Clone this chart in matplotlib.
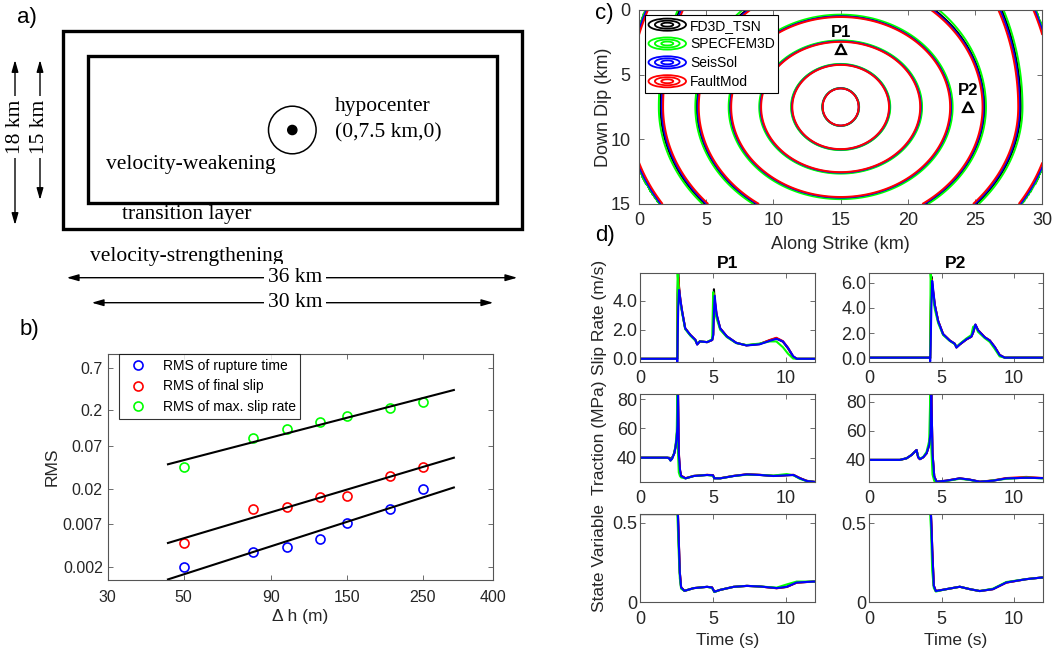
import numpy as np
import matplotlib
matplotlib.use("Agg")
import matplotlib.pyplot as plt
from matplotlib.lines import Line2D
from matplotlib.patches import Ellipse, Rectangle, Circle
from matplotlib.legend_handler import HandlerBase
from matplotlib.ticker import NullLocator

plt.rcParams["font.family"] = ["Liberation Sans", "DejaVu Sans"]

FIG_W, FIG_H = 1059, 657
AX_GRAY = "#262626"

CODES = ["FD3D_TSN", "SPECFEM3D", "SeisSol", "FaultMod"]
CODE_COLORS = {"FD3D_TSN": "#000000", "SPECFEM3D": "#00ff00",
               "SeisSol": "#0000ff", "FaultMod": "#ff0000"}

# ---- b) RMS vs grid size ----
dh = [50, 80, 100, 125, 150, 200, 250]
rms_rupture_time = [0.002, 0.0031, 0.0036, 0.0045, 0.0073, 0.011, 0.020]
rms_final_slip = [0.0040, 0.011, 0.0118, 0.0155, 0.0163, 0.029, 0.038]
rms_max_slip_rate = [0.038, 0.088, 0.114, 0.143, 0.169, 0.212, 0.253]
fit_range = [45, 308]
dh_ticks = [30, 50, 90, 150, 250, 400]
rms_ticks = [0.002, 0.007, 0.02, 0.07, 0.2, 0.7]

# ---- c) rupture front contours (radii of each 1 s front, km) ----
hypocenter = (15.0, 7.5)
front_times = [1, 2, 3, 4, 5, 6, 7]
strike_radius = [1.35, 3.65, 6.0, 8.25, 10.7, 13.4, 16.0]
updip_radius = [1.45, 3.3, 5.1, 7.05, 9.9, 16.8, 18.0]
downdip_radius = [1.45, 3.3, 5.1, 7.05, 9.3, 11.4, 14.0]
code_time_scale = {"FD3D_TSN": 1.0, "SPECFEM3D": 0.992,
                   "SeisSol": 1.006, "FaultMod": 1.012}
stations = {"P1": (15.0, 3.0), "P2": (24.5, 7.5)}

# ---- d) station time series ----
t_p1_sr = [0.0, 2.54, 2.56, 2.58, 2.62, 2.68, 2.78, 2.9, 3.1, 3.45, 3.8, 3.92, 4.1, 4.6, 4.95, 5.02,
           5.07, 5.12, 5.25, 5.5, 5.95, 6.6, 7.3, 8.2, 8.9, 9.35, 9.8, 10.15, 10.5, 10.75, 12.0]
sr_p1 = {
    "FD3D_TSN": [0.0, 0.0, 0.0, 4.5, 5.9, 4.9, 3.9, 3.2, 2.1, 1.65, 1.3, 1.0, 1.2, 1.15, 1.3, 1.7,
                 4.8, 4.0, 3.0, 2.1, 1.55, 1.1, 0.93, 1.02, 1.28, 1.42, 1.18, 0.72, 0.15, 0.0, 0.0],
    "SPECFEM3D": [0.0, 0.0, 0.0, 6.0, 5.3, 4.5, 3.8, 3.1, 2.05, 1.6, 1.25, 1.05, 1.2, 1.15, 1.35, 4.6,
                  3.6, 3.3, 2.8, 2.0, 1.5, 1.08, 0.95, 1.05, 1.2, 1.2, 0.8, 0.35, 0.02, 0.0, 0.0],
    "SeisSol": [0.0, 0.0, -0.2, 1.5, 3.5, 4.75, 4.0, 3.2, 2.1, 1.65, 1.3, 0.98, 1.2, 1.15, 1.3, 1.6,
                3.2, 4.35, 3.1, 2.1, 1.55, 1.1, 0.92, 1.0, 1.24, 1.38, 1.2, 0.75, 0.18, 0.0, 0.0],
    "FaultMod": [0.0, 0.0, 0.0, 3.5, 5.6, 4.9, 4.0, 3.2, 2.1, 1.65, 1.3, 1.0, 1.2, 1.15, 1.3, 1.65,
                 4.5, 4.1, 3.05, 2.1, 1.55, 1.1, 0.93, 1.02, 1.3, 1.45, 1.22, 0.76, 0.17, 0.0, 0.0],
}

t_p2_sr = [0.0, 4.2, 4.22, 4.25, 4.3, 4.36, 4.45, 4.54, 4.77, 5.11, 5.57, 5.92, 6.03, 6.26, 6.72,
           7.06, 7.18, 7.34, 7.52, 7.98, 8.33, 8.67, 9.01, 9.36, 12.0]
sr_p2 = {
    "FD3D_TSN": [0.05, 0.05, 0.0, 3.0, 6.5, 5.8, 5.0, 4.2, 2.95, 1.92, 1.41, 1.15, 0.87, 1.1, 1.5,
                 1.72, 2.05, 2.65, 2.23, 1.67, 1.41, 0.9, 0.26, 0.05, 0.05],
    "SPECFEM3D": [0.05, 0.05, 0.0, 6.75, 6.0, 5.4, 4.6, 3.9, 2.8, 1.85, 1.38, 1.12, 0.9, 1.15, 1.58,
                  1.85, 2.5, 2.6, 2.1, 1.6, 1.3, 0.75, 0.15, 0.05, 0.05],
    "SeisSol": [0.05, 0.05, -0.25, 1.0, 4.0, 6.15, 5.2, 4.23, 2.95, 1.92, 1.41, 1.15, 0.85, 1.1, 1.51,
                1.72, 2.05, 2.69, 2.23, 1.67, 1.41, 0.9, 0.26, 0.05, 0.05],
    "FaultMod": [0.05, 0.05, 0.0, 2.5, 6.3, 5.9, 5.1, 4.23, 2.97, 1.93, 1.42, 1.15, 0.86, 1.1, 1.5,
                 1.72, 2.05, 2.67, 2.24, 1.68, 1.42, 0.9, 0.27, 0.05, 0.05],
}

t_p1_tr = [0.0, 1.87, 2.0, 2.09, 2.2, 2.35, 2.44, 2.52, 2.57, 2.6, 2.66, 2.74, 2.82, 3.12, 3.69,
           4.6, 5.0, 5.1, 5.5, 6.42, 7.33, 8.24, 9.15, 10.06, 10.52, 10.97, 11.43, 12.0]
tr_p1 = {
    "FD3D_TSN": [40.0, 40.0, 40.0, 39.2, 40.0, 43.0, 47.5, 54.0, 63.0, 90.0, 42.0, 31.0, 27.5, 25.9,
                 27.5, 28.2, 28.0, 26.0, 25.9, 27.5, 28.6, 28.2, 27.5, 28.0, 28.2, 26.0, 24.2, 23.4],
    "SPECFEM3D": [40.0, 40.0, 39.5, 38.0, 39.3, 43.5, 48.5, 58.0, 90.0, 45.0, 30.0, 27.5, 26.5, 25.9,
                  27.5, 28.2, 27.6, 25.9, 25.9, 27.5, 28.4, 28.2, 27.8, 28.8, 28.0, 25.5, 24.0, 23.4],
    "SeisSol": [40.0, 40.0, 39.5, 38.0, 39.3, 43.0, 47.5, 54.0, 62.0, 88.0, 43.0, 32.0, 27.5, 25.9,
                27.5, 28.2, 28.0, 25.9, 25.9, 27.5, 28.6, 28.2, 27.5, 28.0, 28.2, 25.9, 24.1, 23.4],
    "FaultMod": [40.0, 40.0, 39.6, 38.2, 39.4, 43.0, 47.5, 54.0, 62.0, 88.0, 44.0, 32.0, 27.8, 26.0,
                 27.6, 28.3, 28.1, 26.0, 26.0, 27.6, 28.7, 28.3, 27.6, 28.1, 28.3, 26.0, 24.2, 23.5],
}

t_p2_tr = [0.0, 2.13, 2.59, 2.94, 3.17, 3.28, 3.39, 3.51, 3.74, 3.97, 4.15, 4.24, 4.29, 4.38, 4.5,
           4.66, 5.34, 6.26, 6.95, 7.64, 8.55, 9.47, 10.85, 11.88, 12.0]
tr_p2 = {
    "FD3D_TSN": [40.0, 40.0, 41.1, 43.4, 45.7, 46.8, 41.8, 40.5, 41.8, 44.5, 50.2, 58.2, 90.0, 44.5,
                 28.6, 25.0, 25.7, 27.3, 26.4, 25.0, 25.7, 27.3, 27.7, 27.5, 27.5],
    "SPECFEM3D": [40.0, 40.0, 41.1, 43.4, 45.7, 46.5, 42.5, 40.8, 42.0, 45.5, 53.0, 90.0, 50.0, 30.0,
                  25.5, 24.8, 25.5, 27.0, 26.2, 24.8, 25.9, 27.0, 27.9, 27.3, 27.3],
    "SeisSol": [40.0, 40.0, 41.1, 43.4, 45.7, 46.8, 41.8, 40.5, 41.8, 44.5, 50.2, 58.2, 90.0, 44.5,
                28.6, 25.0, 25.7, 27.3, 26.4, 25.0, 25.7, 27.3, 27.7, 27.5, 27.5],
    "FaultMod": [40.0, 40.0, 41.1, 43.4, 45.7, 46.8, 41.8, 40.5, 41.8, 44.5, 50.2, 58.2, 90.0, 44.5,
                 28.6, 25.0, 25.7, 27.3, 26.4, 25.0, 25.9, 27.5, 28.3, 27.6, 27.6],
}

t_p1_sv = [0.0, 2.56, 2.6, 2.66, 2.73, 2.82, 3.05, 3.69, 4.6, 4.94, 5.1, 5.5, 6.42, 7.33, 8.24,
           9.37, 10.06, 10.74, 11.88, 12.0]
sv_p1 = {
    "FD3D_TSN": [0.554, 0.554, 0.554, 0.38, 0.186, 0.093, 0.072, 0.089, 0.097, 0.093, 0.066, 0.078,
                 0.097, 0.103, 0.099, 0.089, 0.097, 0.124, 0.13, 0.13],
    "SPECFEM3D": [0.554, 0.554, 0.46, 0.3, 0.15, 0.085, 0.072, 0.089, 0.097, 0.09, 0.064, 0.078,
                  0.097, 0.103, 0.099, 0.092, 0.112, 0.13, 0.13, 0.13],
    "SeisSol": [0.554, 0.554, 0.554, 0.38, 0.186, 0.093, 0.072, 0.089, 0.097, 0.093, 0.066, 0.078,
                0.097, 0.103, 0.099, 0.089, 0.097, 0.124, 0.13, 0.13],
    "FaultMod": [0.554, 0.554, 0.554, 0.39, 0.19, 0.094, 0.072, 0.089, 0.097, 0.093, 0.066, 0.078,
                 0.097, 0.103, 0.099, 0.088, 0.096, 0.123, 0.13, 0.13],
}

t_p2_sv = [0.0, 4.22, 4.27, 4.32, 4.36, 4.47, 4.61, 5.34, 6.26, 6.95, 7.64, 8.55, 9.47, 10.85,
           11.88, 12.0]
sv_p2 = {
    "FD3D_TSN": [0.558, 0.558, 0.558, 0.45, 0.333, 0.104, 0.071, 0.083, 0.098, 0.083, 0.071, 0.083,
                 0.125, 0.146, 0.156, 0.156],
    "SPECFEM3D": [0.558, 0.558, 0.47, 0.33, 0.2, 0.09, 0.068, 0.083, 0.098, 0.083, 0.071, 0.086,
                  0.128, 0.146, 0.156, 0.156],
    "SeisSol": [0.558, 0.558, 0.558, 0.45, 0.333, 0.104, 0.071, 0.083, 0.098, 0.083, 0.071, 0.083,
                0.125, 0.146, 0.156, 0.156],
    "FaultMod": [0.558, 0.558, 0.558, 0.46, 0.34, 0.105, 0.071, 0.083, 0.098, 0.083, 0.071, 0.083,
                 0.124, 0.146, 0.156, 0.156],
}


def px_axes(fig, left, top, right, bottom):
    return fig.add_axes([left / FIG_W, 1 - bottom / FIG_H,
                         (right - left) / FIG_W, (bottom - top) / FIG_H])


def style_axes(ax, labelsize):
    for sp in ax.spines.values():
        sp.set_color("#555555")
        sp.set_linewidth(0.8)
    ax.tick_params(direction="in", top=True, right=True, length=3.5, width=0.6,
                   color="#555555", labelcolor=AX_GRAY, labelsize=labelsize)


class HandlerRings(HandlerBase):
    def create_artists(self, legend, orig_handle, xdescent, ydescent, width, height,
                       fontsize, trans):
        cx = width / 2 - xdescent
        cy = height / 2 - ydescent
        arts = []
        for f in (1.0, 0.66, 0.32):
            arts.append(Ellipse((cx, cy), width * f, height * 1.25 * f, fill=False,
                                edgecolor=orig_handle.get_color(), lw=1.3, transform=trans))
        return arts


def plot_schematic(fig):
    ax = fig.add_axes([0, 0, 1, 1], zorder=-1)
    ax.set_xlim(0, FIG_W)
    ax.set_ylim(FIG_H, 0)
    ax.axis("off")
    serif = dict(family=["Liberation Serif", "DejaVu Serif"], fontsize=15.5)

    ax.add_patch(Rectangle((63.3, 31), 458.4, 198, fill=False, lw=2.4, ec="k"))
    ax.add_patch(Rectangle((87.7, 56), 409.6, 147.3, fill=False, lw=2.4, ec="k"))
    ax.add_patch(Circle((292.3, 130), 23.8, fill=False, lw=1.1, ec="k"))
    ax.add_patch(Circle((292.3, 130), 4.6, color="k"))

    ax.text(335, 107, "hypocenter", ha="left", va="center", **serif)
    ax.text(335, 133, "(0,7.5 km,0)", ha="left", va="center", **serif)
    ax.text(106, 165, "velocity-weakening", ha="left", va="center", **serif)
    ax.text(121.7, 214, "transition layer", ha="left", va="center", **serif)
    ax.text(90, 256, "velocity-strengthening", ha="left", va="center", **serif)

    arrow = dict(arrowstyle="<|-|>,head_length=0.7,head_width=0.2", color="k", lw=1.0,
                 shrinkA=0, shrinkB=0, mutation_scale=10)
    box = dict(facecolor="white", edgecolor="none", pad=3)
    for (x1, x2, y, label) in [(66.7, 517.3, 277.7, "36 km"), (91.7, 493.3, 302.7, "30 km")]:
        ax.annotate("", xy=(x2, y), xytext=(x1, y), arrowprops=arrow)
        ax.text(295, y, label, ha="center", va="center", bbox=box, **serif)
    for (x, y1, y2, label) in [(15, 60, 225, "18 km"), (40, 60, 200, "15 km")]:
        ax.annotate("", xy=(x, y1), xytext=(x, y2), arrowprops=arrow)
        ax.text(x, 127, label, ha="center", va="center", rotation=90, bbox=box, **serif)

    for (x, y, s) in [(27, 17, "a)"), (29, 330, "b)"), (604, 13, "c)"), (605, 235, "d)")]:
        ax.text(x, y, s, ha="center", va="center", fontsize=16)


def plot_rms(fig):
    ax = px_axes(fig, 107.7, 354.3, 492.7, 580)
    series = [(rms_rupture_time, "#0000ff", "RMS of rupture time"),
              (rms_final_slip, "#ff0000", "RMS of final slip"),
              (rms_max_slip_rate, "#00ff00", "RMS of max. slip rate")]
    for vals, color, label in series:
        ax.plot(dh, vals, "o", mfc="none", mec=color, ms=6.5, mew=1.2, label=label)
    for vals, color, label in series:
        coef = np.polyfit(np.log10(dh), np.log10(vals), 1)
        xs = np.array(fit_range, dtype=float)
        ax.plot(xs, 10 ** np.polyval(coef, np.log10(xs)), color="k", lw=1.5)
    ax.set_xscale("log")
    ax.set_yscale("log")
    ax.set_xlim(30, 400)
    ax.set_ylim(0.00136, 1.04)
    ax.set_xticks(dh_ticks)
    ax.set_xticklabels([str(v) for v in dh_ticks])
    ax.set_yticks(rms_ticks)
    ax.set_yticklabels([str(v) for v in rms_ticks])
    ax.xaxis.set_minor_locator(NullLocator())
    ax.yaxis.set_minor_locator(NullLocator())
    style_axes(ax, 11.5)
    ax.tick_params(axis="x", pad=7)
    ax.set_ylabel("RMS", fontsize=12.5, color=AX_GRAY)
    ax.set_xlabel("\u0394 h (m)", fontsize=12.5, color=AX_GRAY)
    ax.yaxis.set_label_coords(-0.125, 0.5)
    ax.xaxis.set_label_coords(0.5, -0.13)
    leg = ax.legend(loc="upper left", bbox_to_anchor=(0.029, 1.0), borderaxespad=0,
                    fontsize=10, frameon=True, fancybox=False, numpoints=1,
                    handlelength=2.0, handletextpad=0.8, labelspacing=0.45, borderpad=0.35)
    leg.get_frame().set_edgecolor("k")
    leg.get_frame().set_linewidth(0.8)


def rupture_time(x, z):
    dx = x - hypocenter[0]
    dz = z - hypocenter[1]
    tt = np.concatenate([[0.0], front_times])
    a0 = np.concatenate([[0.0], strike_radius])
    bu = np.concatenate([[0.0], updip_radius])
    bd = np.concatenate([[0.0], downdip_radius])
    lo = np.zeros_like(dx)
    hi = np.full_like(dx, tt[-1] + 1.0)
    for _ in range(40):
        mid = 0.5 * (lo + hi)
        a = np.interp(mid, tt, a0)
        b = np.where(dz < 0, np.interp(mid, tt, bu), np.interp(mid, tt, bd))
        inside = (dx / a) ** 2 + (dz / b) ** 2 <= 1.0
        hi = np.where(inside, mid, hi)
        lo = np.where(inside, lo, mid)
    return hi


def plot_rupture_fronts(fig):
    ax = px_axes(fig, 639, 10, 1042.3, 204)
    xs = np.linspace(0, 30, 361)
    zs = np.linspace(0, 15, 181)
    X, Z = np.meshgrid(xs, zs)
    T = rupture_time(X, Z)
    for code in ["FD3D_TSN", "SPECFEM3D", "SeisSol", "FaultMod"]:
        ax.contour(X, Z, T * code_time_scale[code], levels=front_times,
                   colors=[CODE_COLORS[code]], linewidths=1.4, linestyles="solid")
    for name, (sx, sz) in stations.items():
        ax.plot(sx, sz, "^", mfc="none", mec="k", ms=7, mew=1.6)
        ax.text(sx, sz - 0.7, name, ha="center", va="bottom", fontsize=12, fontweight="bold")
    ax.set_xlim(0, 30)
    ax.set_ylim(15, 0)
    ax.set_xticks([0, 5, 10, 15, 20, 25, 30])
    ax.set_yticks([0, 5, 10, 15])
    style_axes(ax, 13)
    ax.tick_params(axis="x", pad=6)
    ax.tick_params(axis="y", pad=6)
    ax.set_xlabel("Along Strike (km)", fontsize=13, color=AX_GRAY)
    ax.set_ylabel("Down Dip (km)", fontsize=13, color=AX_GRAY)
    ax.xaxis.set_label_coords(0.5, -0.165)
    ax.yaxis.set_label_coords(-0.068, 0.5)
    handles = [Line2D([], [], color=CODE_COLORS[c], label=c) for c in CODES]
    leg = ax.legend(handles=handles, loc="upper left", bbox_to_anchor=(0.015, 0.974),
                    borderaxespad=0, fontsize=10, fancybox=False, framealpha=1,
                    handler_map={Line2D: HandlerRings()}, handlelength=2.7,
                    handletextpad=0.3, labelspacing=0.35, borderpad=0.25)
    leg.get_frame().set_edgecolor("k")
    leg.get_frame().set_linewidth(0.8)


def plot_time_series(fig):
    cols = [(640, 815), (869, 1043)]
    rows = [(273.3, 361.7), (394, 482), (514, 602.3)]
    panels = [
        [(t_p1_sr, sr_p1, (-0.2, 5.9), [0, 2, 4], ["0.0", "2.0", "4.0"]),
         (t_p2_sr, sr_p2, (-0.27, 6.75), [0, 2, 4, 6], ["0.0", "2.0", "4.0", "6.0"])],
        [(t_p1_tr, tr_p1, (23.4, 83.5), [40, 60, 80], ["40", "60", "80"]),
         (t_p2_tr, tr_p2, (24.8, 85.3), [40, 60, 80], ["40", "60", "80"])],
        [(t_p1_sv, sv_p1, (0, 0.554), [0, 0.5], ["0", "0.5"]),
         (t_p2_sv, sv_p2, (0, 0.557), [0, 0.5], ["0", "0.5"])],
    ]
    ylabels = ["Slip Rate (m/s)", "Traction (MPa)", "State Variable"]
    titles = ["P1", "P2"]
    for r, (top, bottom) in enumerate(rows):
        for c, (left, right) in enumerate(cols):
            t, data, ylim, yt, ytl = panels[r][c]
            ax = px_axes(fig, left, top, right, bottom)
            for code in ["FD3D_TSN", "FaultMod", "SPECFEM3D", "SeisSol"]:
                ax.plot(t, data[code], color=CODE_COLORS[code], lw=1.5)
            ax.set_xlim(0, 12)
            ax.set_ylim(*ylim)
            ax.set_xticks([0, 5, 10])
            ax.set_yticks(yt)
            ax.set_yticklabels(ytl)
            style_axes(ax, 13)
            ax.tick_params(axis="x", pad=6)
            ax.tick_params(axis="y", pad=2)
            if c == 0:
                ax.set_ylabel(ylabels[r], fontsize=12.5, color=AX_GRAY)
                ax.yaxis.set_label_coords(-0.19, 0.5)
            if r == 0:
                ax.set_title(titles[c], fontsize=12.5, fontweight="bold", pad=4)
            if r == 2:
                ax.set_xlabel("Time (s)", fontsize=12.5, color=AX_GRAY)


def main():
    fig = plt.figure(figsize=(FIG_W / 100, FIG_H / 100), dpi=100)
    plot_schematic(fig)
    plot_rms(fig)
    plot_rupture_fronts(fig)
    plot_time_series(fig)
    fig.savefig("out.png", dpi=100)


if __name__ == "__main__":
    main()
